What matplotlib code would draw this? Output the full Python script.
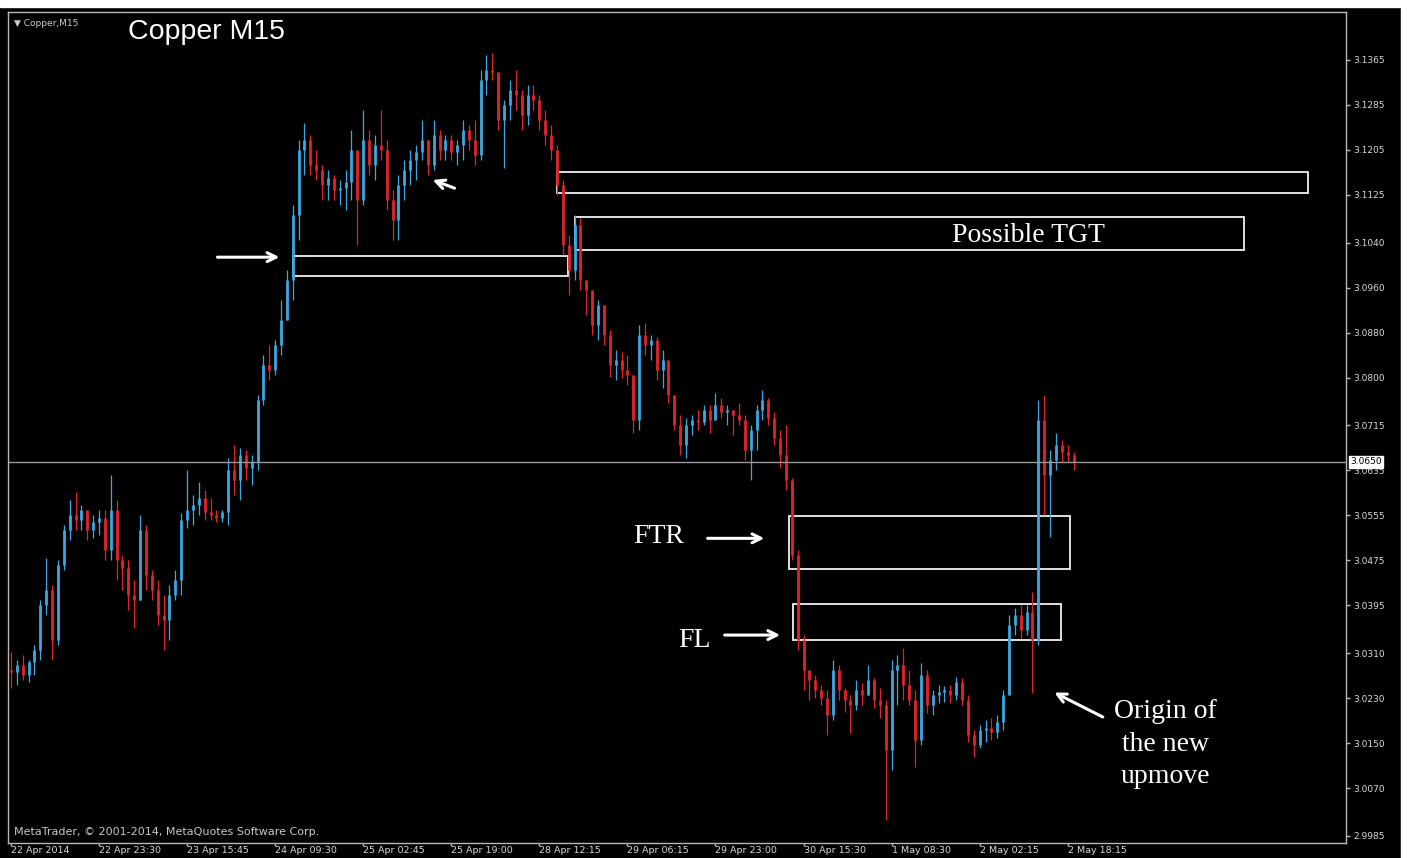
import numpy as np
import matplotlib
matplotlib.use('Agg')
from matplotlib import pyplot as plt
from matplotlib.patches import Rectangle

# Copper M15 bars (one bar per ~6 px of the original)
open0 = 3.0280
highs = [3.0312, 3.0298, 3.0306, 3.0298, 3.0324, 3.0404, 3.0479, 3.0431, 3.0475, 3.0538,
         3.0582, 3.0596, 3.0573, 3.0561, 3.0555, 3.0564, 3.0564, 3.0626, 3.0582, 3.0484,
         3.0475, 3.0440, 3.0555, 3.0538, 3.0458, 3.0440, 3.0413, 3.0431, 3.0458, 3.0559,
         3.0635, 3.0591, 3.0614, 3.0600, 3.0586, 3.0564, 3.0564, 3.0657, 3.0680, 3.0675,
         3.0671, 3.0662, 3.0769, 3.0840, 3.0858, 3.0866, 3.0938, 3.0991, 3.1106, 3.1222,
         3.1252, 3.1231, 3.1204, 3.1178, 3.1169, 3.1160, 3.1151, 3.1169, 3.1240, 3.1204,
         3.1275, 3.1240, 3.1231, 3.1275, 3.1222, 3.1133, 3.1160, 3.1187, 3.1204, 3.1213,
         3.1258, 3.1222, 3.1258, 3.1240, 3.1231, 3.1231, 3.1222, 3.1258, 3.1249, 3.1258,
         3.1347, 3.1373, 3.1377, 3.1338, 3.1293, 3.1329, 3.1347, 3.1311, 3.1320, 3.1320,
         3.1302, 3.1275, 3.1249, 3.1213, 3.1151, 3.1053, 3.1089, 3.1083, 3.0973, 3.0946,
         3.0938, 3.0929, 3.0884, 3.0849, 3.0845, 3.0840, 3.0804, 3.0893, 3.0897, 3.0875,
         3.0872, 3.0849, 3.0831, 3.0769, 3.0733, 3.0728, 3.0733, 3.0742, 3.0751, 3.0751,
         3.0772, 3.0763, 3.0751, 3.0742, 3.0755, 3.0733, 3.0715, 3.0751, 3.0778, 3.0763,
         3.0739, 3.0706, 3.0715, 3.0621, 3.0493, 3.0342, 3.0280, 3.0271, 3.0253, 3.0244,
         3.0298, 3.0289, 3.0248, 3.0235, 3.0262, 3.0257, 3.0289, 3.0266, 3.0248, 3.0226,
         3.0298, 3.0306, 3.0319, 3.0280, 3.0244, 3.0293, 3.0280, 3.0244, 3.0253, 3.0251,
         3.0253, 3.0267, 3.0266, 3.0235, 3.0173, 3.0182, 3.0191, 3.0195, 3.0200, 3.0244,
         3.0378, 3.0390, 3.0395, 3.0395, 3.0418, 3.0760, 3.0769, 3.0671, 3.0701, 3.0689,
         3.0680, 3.0667]
lows = [3.0248, 3.0253, 3.0262, 3.0258, 3.0271, 3.0298, 3.0378, 3.0298, 3.0324, 3.0458,
        3.0511, 3.0529, 3.0529, 3.0511, 3.0514, 3.0520, 3.0475, 3.0475, 3.0440, 3.0422,
        3.0387, 3.0355, 3.0404, 3.0422, 3.0404, 3.0360, 3.0315, 3.0333, 3.0404, 3.0413,
        3.0532, 3.0538, 3.0555, 3.0546, 3.0546, 3.0543, 3.0543, 3.0538, 3.0591, 3.0582,
        3.0617, 3.0609, 3.0635, 3.0751, 3.0795, 3.0804, 3.0840, 3.0902, 3.0938, 3.1044,
        3.1160, 3.1160, 3.1151, 3.1115, 3.1115, 3.1115, 3.1106, 3.1098, 3.1115, 3.1035,
        3.1106, 3.1160, 3.1151, 3.1187, 3.1098, 3.1044, 3.1044, 3.1115, 3.1142, 3.1151,
        3.1187, 3.1160, 3.1169, 3.1187, 3.1187, 3.1187, 3.1178, 3.1187, 3.1204, 3.1178,
        3.1187, 3.1302, 3.1329, 3.1240, 3.1172, 3.1258, 3.1275, 3.1240, 3.1249, 3.1275,
        3.1240, 3.1213, 3.1187, 3.1124, 3.1018, 3.0946, 3.0973, 3.0955, 3.0911, 3.0875,
        3.0866, 3.0858, 3.0801, 3.0795, 3.0799, 3.0787, 3.0701, 3.0706, 3.0840, 3.0831,
        3.0795, 3.0781, 3.0755, 3.0706, 3.0662, 3.0657, 3.0698, 3.0706, 3.0715, 3.0701,
        3.0724, 3.0728, 3.0715, 3.0698, 3.0715, 3.0653, 3.0617, 3.0671, 3.0724, 3.0715,
        3.0680, 3.0639, 3.0600, 3.0475, 3.0315, 3.0244, 3.0226, 3.0230, 3.0218, 3.0164,
        3.0191, 3.0226, 3.0205, 3.0168, 3.0209, 3.0218, 3.0235, 3.0212, 3.0195, 3.0013,
        3.0102, 3.0218, 3.0226, 3.0218, 3.0107, 3.0146, 3.0203, 3.0200, 3.0221, 3.0223,
        3.0221, 3.0226, 3.0218, 3.0152, 3.0125, 3.0141, 3.0152, 3.0155, 3.0159, 3.0173,
        3.0235, 3.0342, 3.0337, 3.0342, 3.0239, 3.0324, 3.0555, 3.0516, 3.0635, 3.0650,
        3.0650, 3.0635]
closes = [3.0276, 3.0289, 3.0271, 3.0294, 3.0315, 3.0395, 3.0422, 3.0333, 3.0466, 3.0529,
          3.0555, 3.0546, 3.0564, 3.0529, 3.0543, 3.0550, 3.0493, 3.0564, 3.0475, 3.0461,
          3.0413, 3.0404, 3.0529, 3.0449, 3.0422, 3.0378, 3.0369, 3.0413, 3.0440, 3.0546,
          3.0564, 3.0573, 3.0586, 3.0561, 3.0555, 3.0550, 3.0561, 3.0635, 3.0617, 3.0662,
          3.0639, 3.0650, 3.0760, 3.0822, 3.0813, 3.0858, 3.0902, 3.0973, 3.1089, 3.1204,
          3.1222, 3.1178, 3.1169, 3.1142, 3.1155, 3.1133, 3.1137, 3.1147, 3.1204, 3.1115,
          3.1222, 3.1178, 3.1213, 3.1204, 3.1115, 3.1080, 3.1142, 3.1169, 3.1187, 3.1201,
          3.1222, 3.1178, 3.1231, 3.1204, 3.1222, 3.1201, 3.1213, 3.1240, 3.1222, 3.1195,
          3.1329, 3.1347, 3.1343, 3.1258, 3.1284, 3.1311, 3.1302, 3.1267, 3.1302, 3.1293,
          3.1258, 3.1231, 3.1204, 3.1142, 3.1035, 3.0991, 3.1071, 3.0973, 3.0955, 3.0893,
          3.0929, 3.0875, 3.0822, 3.0831, 3.0813, 3.0804, 3.0724, 3.0875, 3.0858, 3.0866,
          3.0813, 3.0831, 3.0769, 3.0715, 3.0680, 3.0715, 3.0724, 3.0721, 3.0742, 3.0724,
          3.0751, 3.0739, 3.0742, 3.0733, 3.0724, 3.0671, 3.0706, 3.0742, 3.0760, 3.0728,
          3.0692, 3.0662, 3.0617, 3.0484, 3.0333, 3.0280, 3.0262, 3.0244, 3.0230, 3.0200,
          3.0280, 3.0244, 3.0226, 3.0218, 3.0244, 3.0235, 3.0262, 3.0226, 3.0218, 3.0137,
          3.0280, 3.0289, 3.0253, 3.0226, 3.0155, 3.0271, 3.0218, 3.0235, 3.0241, 3.0244,
          3.0235, 3.0258, 3.0226, 3.0164, 3.0146, 3.0173, 3.0177, 3.0170, 3.0187, 3.0235,
          3.0360, 3.0378, 3.0351, 3.0383, 3.0333, 3.0724, 3.0626, 3.0653, 3.0680, 3.0667,
          3.0662, 3.0650]

date_labels = ['22 Apr 2014', '22 Apr 23:30', '23 Apr 15:45', '24 Apr 09:30', '25 Apr 02:45',
               '25 Apr 19:00', '28 Apr 12:15', '29 Apr 06:15', '29 Apr 23:00', '30 Apr 15:30',
               '1 May 08:30', '2 May 02:15', '2 May 18:15']
label_every = 15  # bars between time labels
price_ticks = [3.1365, 3.1285, 3.1205, 3.1125, 3.1040, 3.0960, 3.0880, 3.0800, 3.0715,
               3.0635, 3.0555, 3.0475, 3.0395, 3.0310, 3.0230, 3.0150, 3.0070, 2.9985]

# supply / demand zones: start bar, end bar, low, high
zone_start = [48.0, 93.0, 96.1, 132.5, 133.2]
zone_end = [94.9, 221.0, 210.0, 180.4, 178.9]
zone_low = [3.0980, 3.1128, 3.1027, 3.0459, 3.0333]
zone_high = [3.1016, 3.1165, 3.1085, 3.0553, 3.0397]

W, H = 1407, 858
fig = plt.figure(figsize=(W / 100, H / 100), dpi=100, facecolor='black')
ax = fig.add_axes([8 / W, 15 / H, 1338 / W, 831 / H])
ax.set_facecolor('black')

n = len(closes)
x = np.arange(n)
hi = np.array(highs)
lo = np.array(lows)
cl = np.array(closes)
op = np.concatenate([[open0], cl[:-1]])
up = cl >= op
cols = np.where(up, '#3aa8e2', '#e3232b')
ax.vlines(x, np.minimum(lo, np.minimum(op, cl)), np.maximum(hi, np.maximum(op, cl)),
          colors=cols, lw=0.9)
ax.vlines(x, op, cl, colors=cols, lw=2.0)

# bid line
ax.axhline(cl[-1], color='#9a9a9a', lw=1.0)

for x0, x1, y0, y1 in zip(zone_start, zone_end, zone_low, zone_high):
    ax.add_patch(Rectangle((x0, y0), x1 - x0, y1 - y0, fill=False,
                           edgecolor='#f2f2f2', lw=1.3))

serif = 'Liberation Serif'
ax.text(173.3, 3.1053, 'Possible TGT', color='white', fontsize=20, family=serif,
        ha='center', va='center')
ax.text(110.4, 3.0518, 'FTR', color='white', fontsize=20, family=serif,
        ha='center', va='center')
ax.text(116.5, 3.0333, 'FL', color='white', fontsize=20, family=serif,
        ha='center', va='center')
ax.text(196.6, 3.0148, 'Origin of\nthe new\nupmove', color='white', fontsize=20,
        family=serif, ha='center', va='center', linespacing=1.4)

arrow = dict(arrowstyle='->', color='white', lw=2.2, mutation_scale=16)
ax.annotate('', xy=(46.2, 3.1014), xytext=(34.7, 3.1014), arrowprops=arrow)
ax.annotate('', xy=(71.4, 3.1153), xytext=(76.0, 3.1135), arrowprops=arrow)
ax.annotate('', xy=(128.8, 3.0514), xytext=(118.2, 3.0514), arrowprops=arrow)
ax.annotate('', xy=(131.5, 3.0342), xytext=(121.1, 3.0342), arrowprops=arrow)
ax.annotate('', xy=(177.3, 3.0242), xytext=(186.4, 3.0194), arrowprops=arrow)

ax.set_xlim(-0.5, 227.4)
ax.set_ylim(2.99722, 3.1450)

axis_col = '#b8b8b8'
for s in ax.spines.values():
    s.set_color(axis_col)
    s.set_linewidth(1.0)

ax.yaxis.tick_right()
ax.set_yticks(price_ticks)
ax.set_yticklabels(['%.4f' % p for p in price_ticks])
ax.tick_params(axis='y', direction='out', length=3, width=1, color=axis_col,
               labelcolor='#d8d8d8', labelsize=6.5, pad=2)
ax.set_xticks(np.arange(len(date_labels)) * label_every)
ax.set_xticklabels(date_labels)
ax.tick_params(axis='x', direction='out', length=2.5, width=1, color=axis_col,
               labelcolor='#d8d8d8', labelsize=6.8, pad=0)
plt.setp(ax.get_xticklabels(), ha='left')

# current price box
ax.text(1.003, cl[-1], '%.4f' % cl[-1], transform=ax.get_yaxis_transform(),
        fontsize=6.5, color='black', ha='left', va='center',
        bbox=dict(boxstyle='square,pad=0.15', fc='white', ec='white'))

fig.text(14 / W, 1 - 24 / H, '\u25bc Copper,M15', color='#c8c8c8', fontsize=6.5,
         ha='left', va='center')
fig.text(128 / W, 1 - 32 / H, 'Copper M15', color='white', fontsize=20.5,
         family='Liberation Sans', ha='left', va='center')
fig.text(14 / W, 1 - 832 / H, 'MetaTrader, \u00a9 2001-2014, MetaQuotes Software Corp.',
         color='#c8c8c8', fontsize=8, ha='left', va='center')

# white paper edges of the screenshot
fig.patches.append(Rectangle((0, 1 - 7 / H), 1, 7 / H, transform=fig.transFigure,
                             color='white', zorder=0))
fig.patches.append(Rectangle((1 - 6 / W, 0), 6 / W, 1, transform=fig.transFigure,
                             color='white', zorder=0))

fig.savefig('out.png', dpi=100, facecolor='black')
